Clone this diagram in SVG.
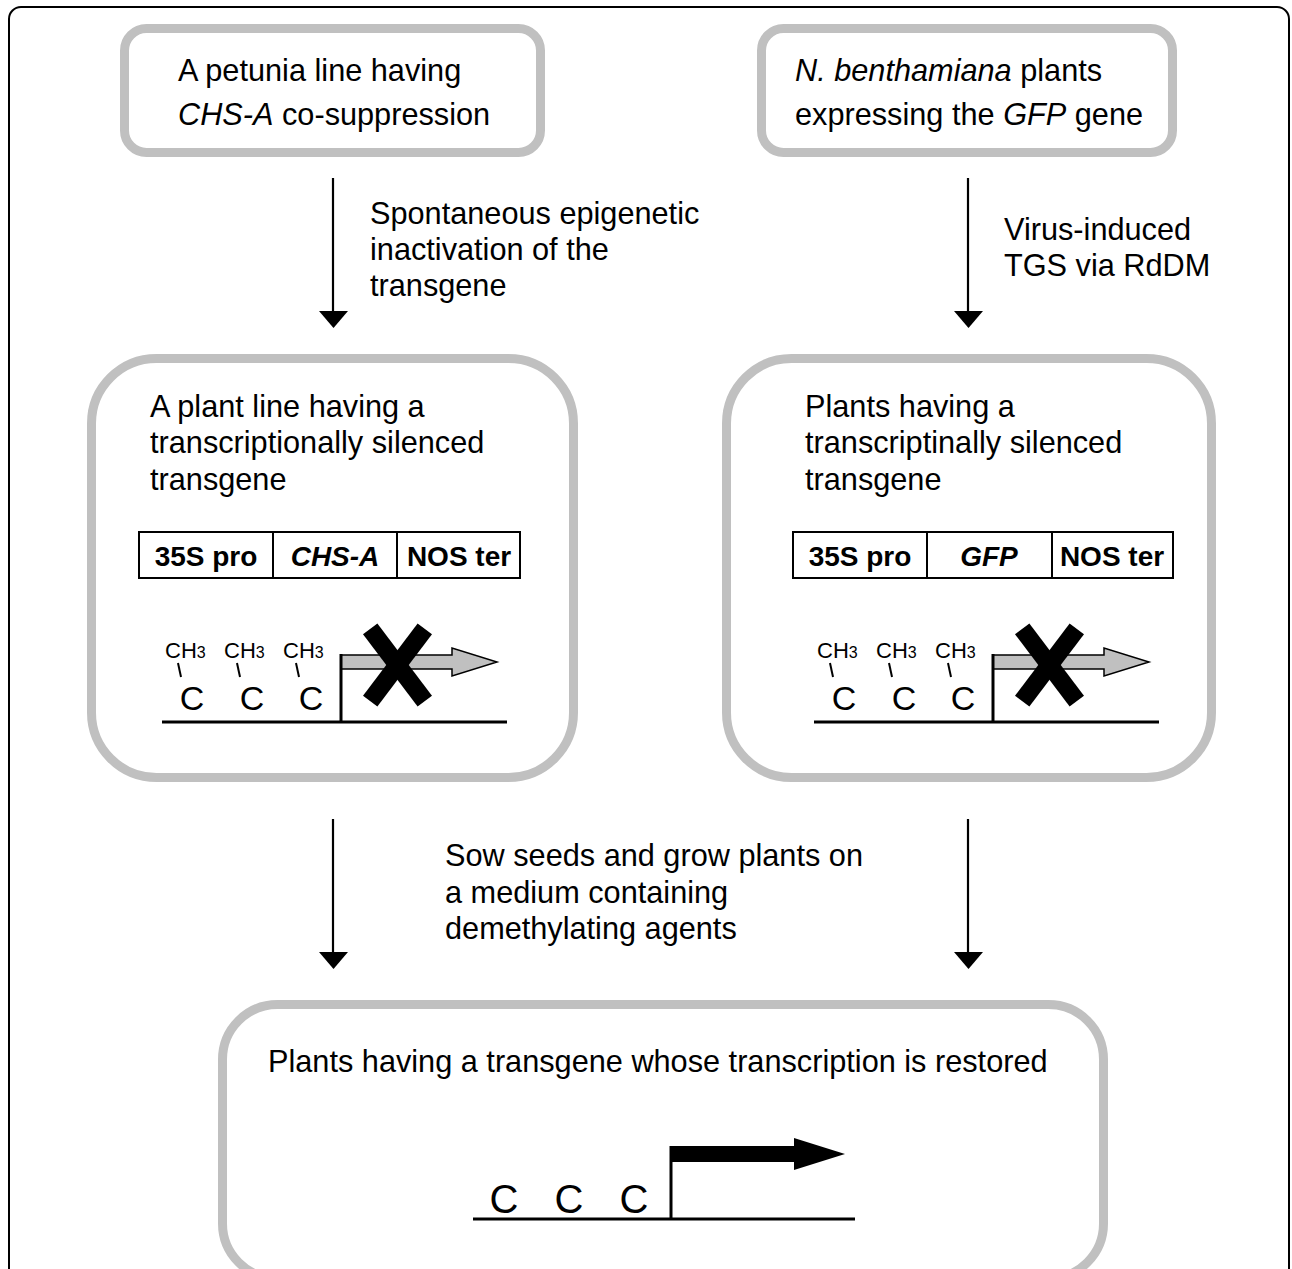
<svg xmlns="http://www.w3.org/2000/svg" width="1292" height="1269" viewBox="0 0 1292 1269">
<defs>
<style>
text{font-family:"Liberation Sans",Arial,sans-serif;fill:#000}
.t{font-size:30.7px}
.box{fill:#fff;stroke:#c0c0c0;stroke-width:9}
.gb{fill:#fff;stroke:#000;stroke-width:2}
.gl{font-size:28px;font-weight:bold;text-anchor:middle}
.conn{stroke:#000;stroke-width:2.2;fill:none}
.ch{font-size:22px}
.c{font-size:34px;text-anchor:middle}
.cb{font-size:40px;text-anchor:middle}
.tick{stroke:#000;stroke-width:2}
.dna{stroke:#000;stroke-width:3;fill:none}
.x{stroke:#000;stroke-width:18}
</style>
<marker id="ah" markerUnits="userSpaceOnUse" markerWidth="18" markerHeight="30" viewBox="0 0 18 30" refX="0" refY="15" orient="auto">
<path d="M0,0 L17,14.5 L0,29 z" fill="#000"/>
</marker>
<g id="silenced">
<text class="ch" x="165" y="658">CH<tspan font-size="16">3</tspan></text>
<text class="ch" x="224" y="658">CH<tspan font-size="16">3</tspan></text>
<text class="ch" x="283" y="658">CH<tspan font-size="16">3</tspan></text>
<line class="tick" x1="178" y1="663" x2="181" y2="677"/>
<line class="tick" x1="237" y1="663" x2="240" y2="677"/>
<line class="tick" x1="296" y1="663" x2="299" y2="677"/>
<text class="c" x="192" y="710">C</text>
<text class="c" x="252" y="710">C</text>
<text class="c" x="311" y="710">C</text>
<line class="dna" x1="162" y1="722" x2="507" y2="722"/>
<path d="M341,669 L452,669 L452,676 L497,662 L452,648 L452,655 L341,655 z" fill="#c0c0c0" stroke="#000" stroke-width="1.5"/>
<line class="dna" x1="341" y1="722" x2="341" y2="654" stroke-width="2.5"/>
<line class="x" x1="370.2" y1="628.8" x2="424.8" y2="701.2"/>
<line class="x" x1="424.8" y1="628.8" x2="370.2" y2="701.2"/>
</g>
</defs>
<rect x="9" y="7" width="1280" height="1300" rx="12" fill="#fff" stroke="#000" stroke-width="2"/>

<g id="connectors">
<line class="conn" x1="333" y1="178" x2="333" y2="311" marker-end="url(#ah)"/>
<line class="conn" x1="968" y1="178" x2="968" y2="311" marker-end="url(#ah)"/>
<line class="conn" x1="333" y1="819" x2="333" y2="952" marker-end="url(#ah)"/>
<line class="conn" x1="968" y1="819" x2="968" y2="952" marker-end="url(#ah)"/>
<text class="t" x="370" y="224">Spontaneous epigenetic</text>
<text class="t" x="370" y="260">inactivation of the</text>
<text class="t" x="370" y="296">transgene</text>
<text class="t" x="1004" y="240">Virus-induced</text>
<text class="t" x="1004" y="276">TGS via RdDM</text>
<text class="t" x="445" y="866">Sow seeds and grow plants on</text>
<text class="t" x="445" y="903">a medium containing</text>
<text class="t" x="445" y="939">demethylating agents</text>
</g>

<g id="petunia">
<rect class="box" x="124.5" y="28.5" width="416" height="124" rx="22"/>
<text class="t" x="178" y="81">A petunia line having</text>
<text class="t" x="178" y="125"><tspan font-style="italic">CHS-A</tspan> co-suppression</text>
</g>

<g id="benthamiana">
<rect class="box" x="761.5" y="28.5" width="411" height="124" rx="22"/>
<text class="t" x="795" y="81"><tspan font-style="italic">N. benthamiana</tspan> plants</text>
<text class="t" x="795" y="125">expressing the <tspan font-style="italic">GFP</tspan> gene</text>
</g>

<g id="plant-line">
<rect class="box" x="91.5" y="358.5" width="482" height="419" rx="65"/>
<text class="t" x="150" y="417">A plant line having a</text>
<text class="t" x="150" y="453">transcriptionally silenced</text>
<text class="t" x="150" y="490">transgene</text>
<rect class="gb" x="139" y="532" width="381" height="46"/>
<line class="gb" x1="273" y1="532" x2="273" y2="578"/>
<line class="gb" x1="397" y1="532" x2="397" y2="578"/>
<text class="gl" x="206" y="566">35S pro</text>
<text class="gl" x="335" y="566" font-style="italic">CHS-A</text>
<text class="gl" x="459" y="566">NOS ter</text>
<use href="#silenced"/>
</g>

<g id="gfp-plants">
<rect class="box" x="726.5" y="358.5" width="485" height="419" rx="65"/>
<text class="t" x="805" y="417">Plants having a</text>
<text class="t" x="805" y="453">transcriptinally silenced</text>
<text class="t" x="805" y="490">transgene</text>
<rect class="gb" x="793" y="532" width="380" height="46"/>
<line class="gb" x1="927" y1="532" x2="927" y2="578"/>
<line class="gb" x1="1052" y1="532" x2="1052" y2="578"/>
<text class="gl" x="860" y="566">35S pro</text>
<text class="gl" x="989" y="566" font-style="italic">GFP</text>
<text class="gl" x="1112" y="566">NOS ter</text>
<use href="#silenced" transform="translate(652,0)"/>
</g>

<g id="restored">
<rect class="box" x="222.5" y="1004.5" width="881" height="274" rx="55"/>
<text class="t" x="268" y="1072">Plants having a transgene whose transcription is restored</text>
<text class="cb" x="504" y="1213">C</text>
<text class="cb" x="569" y="1213">C</text>
<text class="cb" x="634" y="1213">C</text>
<line class="dna" x1="473" y1="1219" x2="855" y2="1219" stroke-width="2.5"/>
<line class="dna" x1="671" y1="1219" x2="671" y2="1146" stroke-width="2.5"/>
<path d="M670,1146 L794,1146 L794,1138 L845,1154 L794,1170 L794,1162 L670,1162 z" fill="#000"/>
</g>
</svg>
